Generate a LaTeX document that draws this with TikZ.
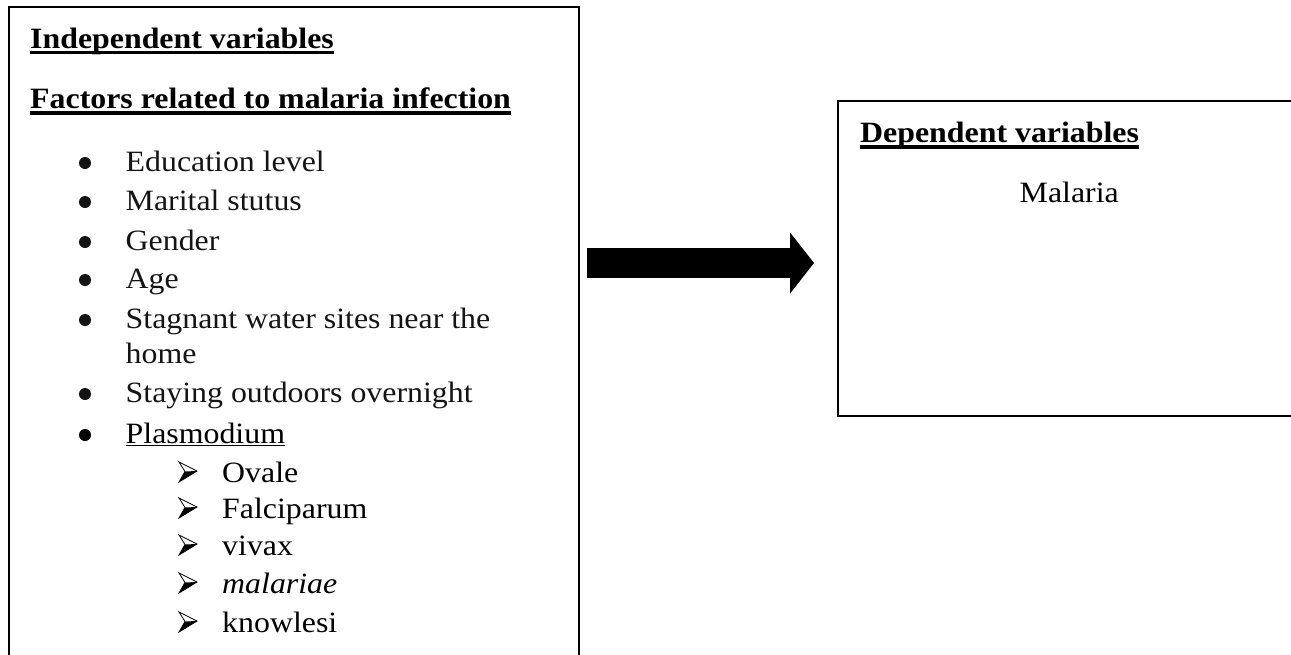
\documentclass[tikz,border=0pt]{standalone}
\usepackage{fontspec}
\setmainfont{Liberation Serif}
\usetikzlibrary{arrows.meta}

\begin{document}
\begin{tikzpicture}[x=1pt, y=-1pt,
    txt/.style={anchor=base west, inner sep=0pt, xscale=1.08, font=\fontsize{29.5}{30}\selectfont},
    head/.style={txt, font=\fontsize{29.5}{30}\selectfont\bfseries},
    item/.style={txt, text=black!92},
    ul/.style={line width=3.5pt},
    box/.style={line width=1.3pt},
    tipline/.style={line width=0.8pt, line join=miter}]
                \useasboundingbox (0,0) rectangle (1291,654);
                \clip (0,0) rectangle (1291,654);
                % boxes
                \draw[box] (9,7) rectangle (579,690);
                \draw[box, line width=1.6pt] (838,101) rectangle (1310,416);
                % left box
                \node[head] (indep) at (30,48) {Independent variables};
                \node[head] (factors) at (30,108) {Factors related to malaria infection};
                \draw[ul] ([yshift=-4.5pt]indep.base west) -- ([yshift=-4.5pt]indep.base east);
                \draw[ul] ([yshift=-5pt]factors.base west) -- ([yshift=-5pt]factors.base east);
                \node[item] (edu) at (125.5,171) {Education level};
                \node[item] (marital) at (125.5,210) {Marital stutus};
                \node[item] (gender) at (125.5,250) {Gender};
                \node[item] (age) at (125.5,288) {Age};
                \node[item] (water) at (125.5,328) {Stagnant water sites near the};
                \node[item] (home) at (125.5,363) {home};
                \node[item] (outdoors) at (125.5,402) {Staying outdoors overnight};
                \node[txt] (plasmo) at (125.5,443) {Plasmodium};
                \draw[line width=1.3pt] ([yshift=-2.5pt]plasmo.base west) -- ([yshift=-2.5pt]plasmo.base east);
                \fill[black!92] (85,163) circle (6pt);
                \fill[black!92] (85,202) circle (6pt);
                \fill[black!92] (85,242) circle (6pt);
                \fill[black!92] (85,280) circle (6pt);
                \fill[black!92] (85,320) circle (6pt);
                \fill[black!92] (85,394) circle (6pt);
                \fill (85,435) circle (6pt);
                % sub items
                \node[txt] (ovale) at (222,482) {Ovale};
                \node[txt] (falci) at (222,518) {Falciparum};
                \node[txt] (vivax) at (222,555) {vivax};
                \node[txt] (malariae) at (222,593) {\itshape malariae};
                \node[txt] (knowlesi) at (222,632) {knowlesi};
                \fill (185,471.5) -- (197,471) -- (179,482) -- cycle;
                \draw[tipline] (179,462) -- (197,471) -- (179,482) -- (185,471.5) -- cycle;
                \fill (185,507.5) -- (197,507) -- (179,518) -- cycle;
                \draw[tipline] (179,498) -- (197,507) -- (179,518) -- (185,507.5) -- cycle;
                \fill (185,544.5) -- (197,544) -- (179,555) -- cycle;
                \draw[tipline] (179,535) -- (197,544) -- (179,555) -- (185,544.5) -- cycle;
                \fill (185,582.5) -- (197,582) -- (179,593) -- cycle;
                \draw[tipline] (179,573) -- (197,582) -- (179,593) -- (185,582.5) -- cycle;
                \fill (185,621.5) -- (197,621) -- (179,632) -- cycle;
                \draw[tipline] (179,612) -- (197,621) -- (179,632) -- (185,621.5) -- cycle;
                % right box
                \node[head] (dep) at (860,142) {Dependent variables};
                \draw[ul] ([yshift=-5pt]dep.base west) -- ([yshift=-5pt]dep.base east);
                \node[txt] (malaria) at (1019.5,202) {Malaria};
                % arrow
                \coordinate (from) at (587,263);
                \coordinate (to) at (814,263);
                \draw[line width=30pt, -{Triangle[length=24pt, width=60pt]}] (from) -- (to);
            \end{tikzpicture}
\end{document}
